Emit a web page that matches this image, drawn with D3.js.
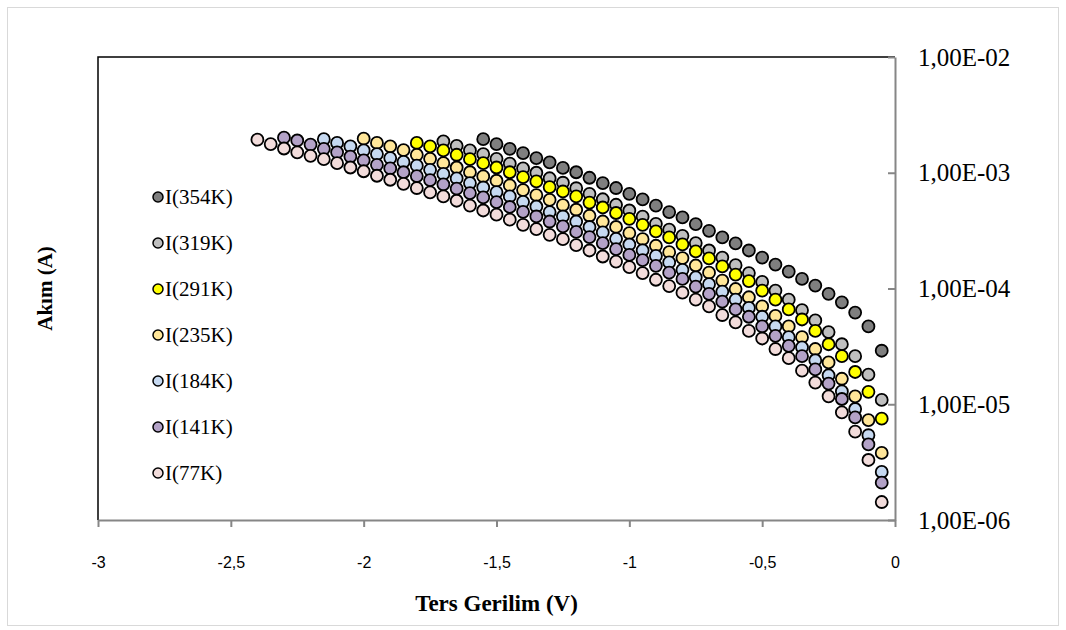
<!DOCTYPE html>
<html>
<head>
<meta charset="utf-8">
<script src="https://cdn.jsdelivr.net/npm/d3@7"></script>
<style>
  body { margin: 0; background: #fff; }
  svg { display: block; }
  .axis path, .axis line { stroke: #868686; stroke-width: 2; }
  .xaxis text { font-family: "Liberation Sans", Arial, sans-serif; font-size: 16px; fill: #000; }
  .yaxis text { font-family: "Liberation Serif", "Times New Roman", serif; font-size: 25px; fill: #000; }
  .title { font-family: "Liberation Serif", "Times New Roman", serif; font-weight: bold; font-size: 21px; }
  .xtitle { font-size: 23px; }
  .legend text { font-family: "Liberation Serif", "Times New Roman", serif; font-size: 21px; }
</style>
</head>
<body>
<div id="chart"></div>
<script>
var width = 1066,
    height = 630;

// reverse voltage (V), one reading every 50 mV
var volts = [-2.40, -2.35, -2.30, -2.25, -2.20, -2.15, -2.10, -2.05, -2.00, -1.95,
             -1.90, -1.85, -1.80, -1.75, -1.70, -1.65, -1.60, -1.55, -1.50, -1.45,
             -1.40, -1.35, -1.30, -1.25, -1.20, -1.15, -1.10, -1.05, -1.00, -0.95,
             -0.90, -0.85, -0.80, -0.75, -0.70, -0.65, -0.60, -0.55, -0.50, -0.45,
             -0.40, -0.35, -0.30, -0.25, -0.20, -0.15, -0.10, -0.05];

// currents (A); each series ends at -0.05 V
var i354 = [1.95e-3, 1.77e-3, 1.61e-3, 1.48e-3, 1.34e-3, 1.23e-3, 1.10e-3, 1.01e-3, 9.05e-4, 8.15e-4,
            7.38e-4, 6.58e-4, 5.88e-4, 5.19e-4, 4.57e-4, 4.11e-4, 3.60e-4, 3.15e-4, 2.76e-4, 2.45e-4,
            2.13e-4, 1.85e-4, 1.61e-4, 1.40e-4, 1.21e-4, 1.06e-4, 9.0e-5, 7.6e-5, 6.2e-5, 4.7e-5, 2.9e-5];
var i319 = [1.87e-3, 1.71e-3, 1.56e-3, 1.45e-3, 1.32e-3, 1.20e-3, 1.09e-3, 1.00e-3, 8.96e-4, 8.2e-4,
            7.35e-4, 6.58e-4, 5.90e-4, 5.29e-4, 4.72e-4, 4.17e-4, 3.62e-4, 3.22e-4, 2.85e-4, 2.47e-4,
            2.13e-4, 1.85e-4, 1.59e-4, 1.36e-4, 1.14e-4, 9.6e-5, 8.0e-5, 6.5e-5, 5.3e-5, 4.2e-5,
            3.3e-5, 2.6e-5, 1.8e-5, 1.09e-5];
var i291 = [1.81e-3, 1.69e-3, 1.56e-3, 1.43e-3, 1.31e-3, 1.21e-3, 1.11e-3, 1.01e-3, 9.18e-4, 8.41e-4,
            7.52e-4, 6.89e-4, 6.24e-4, 5.53e-4, 5.01e-4, 4.49e-4, 4.0e-4, 3.55e-4, 3.11e-4, 2.76e-4,
            2.41e-4, 2.09e-4, 1.82e-4, 1.55e-4, 1.32e-4, 1.16e-4, 9.6e-5, 8.0e-5, 6.6e-5, 5.4e-5,
            4.3e-5, 3.3e-5, 2.6e-5, 1.9e-5, 1.28e-5, 7.5e-6];
var i235 = [1.97e-3, 1.81e-3, 1.69e-3, 1.57e-3, 1.43e-3, 1.32e-3, 1.21e-3, 1.11e-3, 1.01e-3, 9.29e-4,
            8.53e-4, 7.77e-4, 7.08e-4, 6.41e-4, 5.84e-4, 5.26e-4, 4.79e-4, 4.25e-4, 3.79e-4, 3.40e-4,
            3.01e-4, 2.67e-4, 2.34e-4, 2.06e-4, 1.83e-4, 1.58e-4, 1.37e-4, 1.17e-4, 9.9e-5, 8.4e-5,
            7.0e-5, 5.8e-5, 4.7e-5, 3.8e-5, 3.0e-5, 2.3e-5, 1.66e-5, 1.17e-5, 7.3e-6, 3.8e-6];
var i184 = [1.95e-3, 1.81e-3, 1.69e-3, 1.56e-3, 1.45e-3, 1.34e-3, 1.24e-3, 1.15e-3, 1.06e-3, 9.77e-4,
            8.93e-4, 8.15e-4, 7.46e-4, 6.81e-4, 6.24e-4, 5.61e-4, 5.11e-4, 4.57e-4, 4.19e-4, 3.79e-4,
            3.40e-4, 3.05e-4, 2.69e-4, 2.40e-4, 2.14e-4, 1.91e-4, 1.68e-4, 1.45e-4, 1.25e-4, 1.09e-4,
            9.4e-5, 8.0e-5, 6.8e-5, 5.7e-5, 4.7e-5, 3.8e-5, 3.1e-5, 2.4e-5, 1.78e-5, 1.29e-5,
            9.1e-6, 5.4e-6, 2.6e-6];
var i141 = [2.01e-3, 1.90e-3, 1.75e-3, 1.61e-3, 1.50e-3, 1.38e-3, 1.28e-3, 1.17e-3, 1.09e-3, 1.01e-3,
            9.36e-4, 8.65e-4, 7.95e-4, 7.28e-4, 6.68e-4, 6.12e-4, 5.58e-4, 5.06e-4, 4.60e-4, 4.19e-4,
            3.79e-4, 3.44e-4, 3.08e-4, 2.78e-4, 2.47e-4, 2.19e-4, 1.95e-4, 1.76e-4, 1.57e-4, 1.37e-4,
            1.21e-4, 1.04e-4, 9.0e-5, 7.7e-5, 6.6e-5, 5.7e-5, 4.7e-5, 3.9e-5, 3.2e-5, 2.6e-5,
            2.0e-5, 1.51e-5, 1.11e-5, 7.7e-6, 4.5e-6, 2.1e-6];
var i77 = [1.93e-3, 1.77e-3, 1.62e-3, 1.50e-3, 1.40e-3, 1.31e-3, 1.21e-3, 1.11e-3, 1.03e-3, 9.42e-4,
           8.70e-4, 8.03e-4, 7.38e-4, 6.76e-4, 6.24e-4, 5.73e-4, 5.21e-4, 4.72e-4, 4.34e-4, 3.93e-4,
           3.55e-4, 3.26e-4, 2.91e-4, 2.67e-4, 2.37e-4, 2.13e-4, 1.89e-4, 1.71e-4, 1.53e-4, 1.36e-4,
           1.19e-4, 1.05e-4, 9.2e-5, 8.0e-5, 7.0e-5, 5.9e-5, 5.1e-5, 4.3e-5, 3.7e-5, 3.0e-5,
           2.5e-5, 1.95e-5, 1.54e-5, 1.17e-5, 8.5e-6, 5.8e-6, 3.3e-6, 1.43e-6];

var names = ['I(354K)', 'I(319K)', 'I(291K)', 'I(235K)', 'I(184K)', 'I(141K)', 'I(77K)'];
var colors = ['#7f7f7f', '#bfbfbf', '#ffff00', '#ffe699', '#c6d9f1', '#b3a2c7', '#f2dcdb'];
var currents = [i354, i319, i291, i235, i184, i141, i77];

var xTicks = [-3, -2.5, -2, -1.5, -1, -0.5, 0];
var yTicks = [1e-6, 1e-5, 1e-4, 1e-3, 1e-2];

var svg = d3.select('#chart').append('svg')
    .attr('width', width)
    .attr('height', height);

// outer chart border
svg.append('rect')
    .attr('x', 7.5).attr('y', 7.5)
    .attr('width', 1051).attr('height', 618)
    .attr('fill', 'none')
    .attr('stroke', '#d9d9d9');

var x = d3.scaleLinear().domain([-3, 0]).range([98, 895]);
var y = d3.scaleLog().domain([1e-6, 1e-2]).range([520, 57]);

// plot area frame (left and top edges are black)
svg.append('path')
    .attr('d', 'M' + x(-3) + ',' + y(1e-6) + 'V' + y(1e-2) + 'H' + x(0))
    .attr('fill', 'none')
    .attr('stroke', '#000')
    .attr('stroke-width', 1.5);

svg.append('g')
    .attr('class', 'axis xaxis')
    .attr('transform', 'translate(0,' + y(1e-6) + ')')
    .call(d3.axisBottom(x)
        .tickValues(xTicks)
        .tickSize(7)
        .tickSizeOuter(0)
        .tickPadding(30)
        .tickFormat(function(d) { return String(d).replace('.', ','); }));

svg.append('g')
    .attr('class', 'axis yaxis')
    .attr('transform', 'translate(' + x(0) + ',0)')
    .call(d3.axisRight(y)
        .tickValues(yTicks)
        .tickSize(-7)
        .tickSizeOuter(0)
        .tickPadding(23)
        .tickFormat(function(d) {
            var e = Math.round(Math.log10(d));
            return '1,00E-' + String(-e).padStart(2, '0');
        }));

// markers, later series on top
currents.forEach(function(vals, s) {
    var offset = volts.length - vals.length;
    svg.append('g')
        .selectAll('circle')
        .data(vals)
      .enter().append('circle')
        .attr('cx', function(d, i) { return x(volts[offset + i]); })
        .attr('cy', function(d) { return y(d); })
        .attr('r', 6)
        .attr('fill', colors[s])
        .attr('stroke', '#000')
        .attr('stroke-width', 1.8);
});

// axis titles
svg.append('text')
    .attr('class', 'title')
    .attr('transform', 'translate(52,' + (y(1e-4)) + ') rotate(-90)')
    .attr('text-anchor', 'middle')
    .text('Akım (A)');

svg.append('text')
    .attr('class', 'title xtitle')
    .attr('x', (x(-3) + x(0)) / 2)
    .attr('y', 611)
    .attr('text-anchor', 'middle')
    .text('Ters Gerilim (V)');

// legend
var legend = svg.append('g').attr('class', 'legend');
var items = legend.selectAll('g')
    .data(names)
  .enter().append('g')
    .attr('transform', function(d, i) { return 'translate(158,' + (197 + i * 46) + ')'; });
items.append('circle')
    .attr('r', 5)
    .attr('fill', function(d, i) { return colors[i]; })
    .attr('stroke', '#000')
    .attr('stroke-width', 1.5);
items.append('text')
    .attr('x', 7)
    .attr('y', 7)
    .text(function(d) { return d; });
</script>
</body>
</html>
